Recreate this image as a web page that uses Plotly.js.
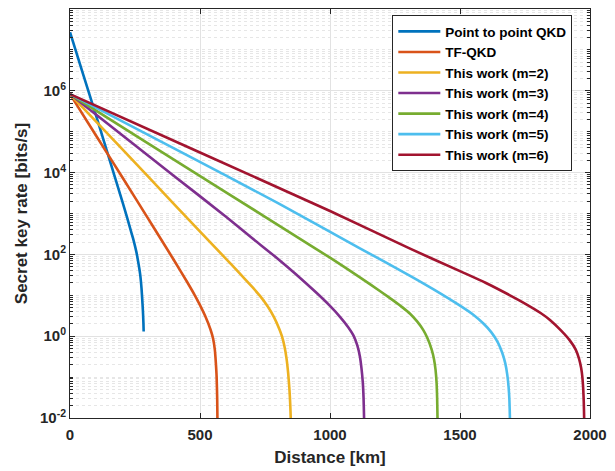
<!DOCTYPE html>
<html>
<head>
<meta charset="utf-8">
<script src="https://cdn.plot.ly/plotly-3.0.1.min.js"></script>
<style>html,body{margin:0;padding:0;background:#fff;}#chart{width:615px;height:471px;}</style>
</head>
<body>
<div id="chart"></div>
<script>
// Distances [km] and secret key rates [bits/s]
const p2pDist = [0, 50, 100, 150, 200, 220, 235, 245, 255, 265, 270, 275, 279, 281, 282.5, 283.3];
const p2pRate = [2.7e7, 2.6e6, 2.5e5, 2.3e4, 2.1e3, 780, 360, 214, 117, 52, 32, 15, 6.0, 3.5, 2.0, 1.3];

const tfDist = [0, 100, 200, 300, 350, 400, 450, 480, 500, 520, 540, 550, 557, 561, 564, 566, 567, 567.5];
const tfRate = [8.3e5, 8.1e4, 7.9e3, 760, 234, 72, 21.4, 10, 5.75, 3.1, 1.48, 0.89, 0.47, 0.22, 0.1, 0.032, 0.01, 0.005];

const m2Dist = [0, 200, 400, 600, 650, 700, 730, 760, 785, 805, 815, 825, 833, 839, 844, 847, 849, 850];
const m2Rate = [8.3e5, 3.8e4, 1.7e3, 78, 35.9, 16.2, 9.8, 5.4, 2.9, 1.5, 1.0, 0.56, 0.28, 0.126, 0.05, 0.022, 0.01, 0.005];

const m3Dist = [0, 200, 400, 600, 700, 800, 870, 950, 1000, 1040, 1070, 1090, 1105, 1115, 1121, 1126, 1129, 1131, 1132];
const m3Rate = [8.3e5, 8.3e4, 8.3e3, 832, 251, 77.6, 32.4, 11.2, 5.5, 2.9, 1.66, 1.05, 0.6, 0.32, 0.166, 0.076, 0.032, 0.01, 0.005];

const m4Dist = [0, 300, 600, 900, 1000, 1115, 1200, 1244, 1280, 1308, 1335, 1359, 1375, 1391, 1400, 1406, 1410, 1412, 1413.5, 1414.5];
const m4Rate = [8.3e5, 5.2e4, 3.3e3, 209, 83, 27.5, 11.7, 7.4, 5.0, 3.55, 2.3, 1.41, 0.89, 0.47, 0.275, 0.15, 0.071, 0.032, 0.01, 0.005];

const m5Dist = [0, 400, 800, 1115, 1308, 1400, 1500, 1550, 1590, 1620, 1645, 1662, 1674, 1682, 1687, 1690, 1692, 1693];
const m5Rate = [8.3e5, 3.9e4, 1.8e3, 141, 30, 13.8, 5.6, 3.4, 2.04, 1.26, 0.72, 0.4, 0.22, 0.112, 0.056, 0.028, 0.01, 0.005];

const m6Dist = [0, 500, 1000, 1308, 1500, 1600, 1692, 1750, 1810, 1846, 1890, 1923, 1945, 1958, 1966, 1971, 1974, 1976, 1977.5, 1978.5];
const m6Rate = [8.3e5, 3.1e4, 1.15e3, 138, 39, 20, 10, 6.3, 3.7, 2.5, 1.35, 0.78, 0.47, 0.28, 0.166, 0.095, 0.05, 0.025, 0.01, 0.005];

const seriesNames = ['Point to point QKD', 'TF-QKD', 'This work (m=2)', 'This work (m=3)',
                     'This work (m=4)', 'This work (m=5)', 'This work (m=6)'];
const seriesColors = ['#0072BD', '#D95319', '#EDB120', '#7E2F8E', '#77AC30', '#4DBEEE', '#A2142F'];

const yTickVals = [1e-2, 1, 1e2, 1e4, 1e6];
const yTickText = ['10<sup>-2</sup>', '10<sup>0</sup>', '10<sup>2</sup>', '10<sup>4</sup>', '10<sup>6</sup>'];
const xTickVals = [0, 500, 1000, 1500, 2000];

const dists = [p2pDist, tfDist, m2Dist, m3Dist, m4Dist, m5Dist, m6Dist];
const rates = [p2pRate, tfRate, m2Rate, m3Rate, m4Rate, m5Rate, m6Rate];

const traces = seriesNames.map((n, i) => ({
  x: dists[i], y: rates[i], name: n, type: 'scatter', mode: 'lines',
  line: {color: seriesColors[i], width: 2.6, shape: 'spline', smoothing: 0.6}
}));

const fontFam = 'Liberation Sans, Arial, Helvetica, sans-serif';
const axisCol = '#262626';

const layout = {
  width: 615, height: 471,
  margin: {l: 70, r: 25, t: 9, b: 53},
  paper_bgcolor: '#fff', plot_bgcolor: '#fff',
  font: {family: fontFam, color: axisCol, size: 15, weight: 'bold'},
  showlegend: true,
  legend: {
    x: 0.966, y: 0.985, xanchor: 'right', yanchor: 'top',
    bgcolor: '#fff', bordercolor: axisCol, borderwidth: 1,
    font: {family: fontFam, size: 13.5, color: '#000', weight: 'bold'},
    itemwidth: 42, tracegroupgap: 0
  },
  xaxis: {
    type: 'linear', range: [0, 2000],
    tickmode: 'array', tickvals: xTickVals,
    ticks: 'inside', ticklen: 5, tickcolor: axisCol,
    showline: true, linecolor: axisCol, linewidth: 1, mirror: 'ticks',
    showgrid: true, gridcolor: '#e2e2e2', gridwidth: 1, zeroline: false,
    ticklabelstandoff: 3,
    tickfont: {family: fontFam, size: 15, color: axisCol, weight: 'bold'},
    title: {text: 'Distance [km]', font: {family: fontFam, size: 17, color: axisCol, weight: 'bold'}, standoff: 9}
  },
  yaxis: {
    type: 'log', range: [-2, 8],
    tickmode: 'array', tickvals: yTickVals, ticktext: yTickText,
    ticks: 'inside', ticklen: 5, tickcolor: axisCol,
    showline: true, linecolor: axisCol, linewidth: 1, mirror: 'ticks',
    showgrid: true, gridcolor: '#e2e2e2', gridwidth: 1, zeroline: false,
    tickfont: {family: fontFam, size: 15, color: axisCol, weight: 'bold'},
    minor: {dtick: 'D1', ticks: 'inside', ticklen: 3, tickcolor: axisCol,
            showgrid: true, gridcolor: '#e6e6e6', griddash: 'dot', gridwidth: 1},
    title: {text: 'Secret key rate [bits/s]', font: {family: fontFam, size: 17, color: axisCol, weight: 'bold'}, standoff: 8}
  }
};

Plotly.newPlot('chart', traces, layout, {displayModeBar: false, staticPlot: true});
</script>
</body>
</html>
